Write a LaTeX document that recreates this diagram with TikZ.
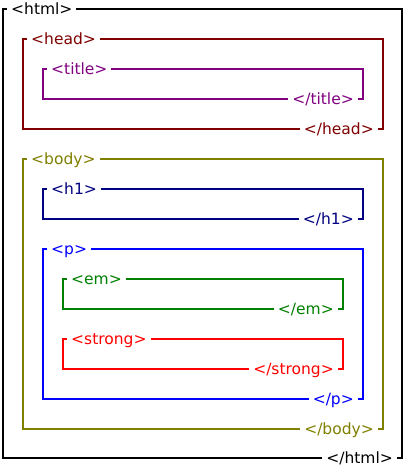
\documentclass[tikz,border=0pt]{standalone}
\usepackage{fontspec}
\setmainfont{DejaVu Sans}
\definecolor{cmaroon}{HTML}{800000}
\definecolor{cpurple}{HTML}{800080}
\definecolor{colive}{HTML}{808000}
\definecolor{cnavy}{HTML}{000080}
\definecolor{cblue}{HTML}{0000FF}
\definecolor{cgreen}{HTML}{008000}
\definecolor{cred}{HTML}{FF0000}
\newcommand\tagbox[9]{%
  \draw[line width=#3, draw=#2] (#4,-#5) rectangle (#6,-#7);
  \node[lbl, text=#2, anchor=base west] (#1o) at (#4+4,-#5-5.5) {#8};
  \node[lbl, text=#2, anchor=base east] (#1c) at (#6-5,-#7-5.5) {#9};
}
\begin{document}
\begin{tikzpicture}[x=1pt,y=1pt,
  lbl/.style={fill=white, inner xsep=4pt, inner ysep=2pt, font=\fontsize{15.5}{18}\selectfont}]
\useasboundingbox[fill=white] (0,0) rectangle (406,-468);
\tagbox{html}{black}{2.8pt}{3}{9}{402}{458}{<html>}{</html>}
\tagbox{head}{cmaroon}{2.3pt}{23}{39}{383}{129}{<head>}{</head>}
\tagbox{title}{cpurple}{2.3pt}{43}{69}{363}{99}{<title>}{</title>}
\tagbox{body}{colive}{2.3pt}{23}{159}{383}{429}{<body>}{</body>}
\tagbox{hone}{cnavy}{2.3pt}{43}{189}{363}{219}{<h1>}{</h1>}
\tagbox{p}{cblue}{2.3pt}{43}{249}{363}{399}{<p>}{</p>}
\tagbox{em}{cgreen}{2.3pt}{63}{279}{343}{309}{<em>}{</em>}
\tagbox{strong}{cred}{2.3pt}{63}{339}{343}{369}{<strong>}{</strong>}
\end{tikzpicture}
\end{document}
